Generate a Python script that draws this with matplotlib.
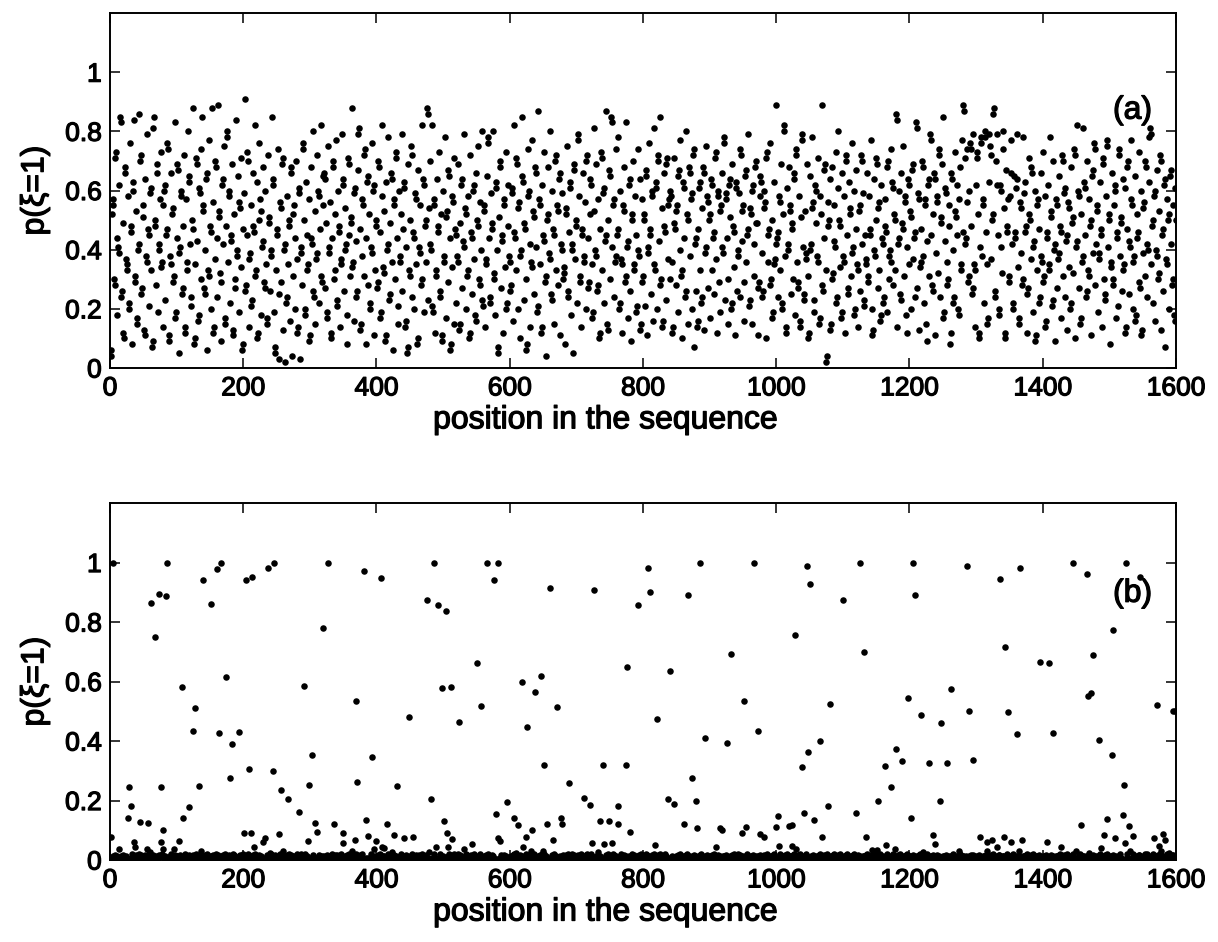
import numpy as np
import matplotlib
matplotlib.use("Agg")
import matplotlib.pyplot as plt
import matplotlib.patheffects as pe

plt.rcParams['font.family'] = ['Liberation Sans', 'DejaVu Sans']

# (a) p(xi=1) for every position, in percent
p_a_text = """
4 6 52 55 57 30 28 71 73 18 44 41 39 62 85 83 24 26 49 12 10 66 68 37 35 33 58 20 22 76 46 48 8 60 63 84 29 31 53 15
17 40 42 86 70 72 25 27 55 51 13 11 64 38 36 79 47 45 21 59 61 33 7 9 81 85 50 48 28 66 69 19 42 40 57 73 34 36 14 55
60 62 23 45 47 76 74 9 11 38 35 66 52 54 29 31 83 17 19 44 69 67 5 39 41 58 60 25 27 48 72 14 12 57 36 33 80 65 63 42
21 24 50 47 88 8 10 35 71 69 43 16 18 61 59 30 74 85 53 55 27 25 40 64 66 6 33 31 77 48 46 20 88 56 12 14 37 70 68 44
24 89 51 53 32 29 9 62 64 42 75 17 15 48 80 78 36 58 60 22 45 43 69 11 13 52 27 30 84 40 38 65 19 56 54 34 71 6 8 47
59 91 26 28 45 73 70 14 37 39 55 21 23 66 48 46 82 31 33 63 10 12 50 76 57 53 18 41 43 68 29 27 60 35 15 17 72 49 51 26
38 40 85 62 64 19 7 5 33 47 45 74 25 3 56 54 29 69 71 13 40 42 2 22 24 58 35 50 48 16 66 68 4 31 52 55 20 44 70 37
12 14 61 59 3 39 41 28 76 74 50 20 18 63 45 33 35 57 9 11 68 44 42 80 26 24 53 15 37 39 72 60 58 22 47 82 31 29 55 65
66 64 27 49 17 19 75 39 41 56 10 12 44 70 68 30 33 52 77 23 21 60 46 48 14 35 37 79 62 64 26 54 40 42 8 18 71 69 45 31
51 49 88 34 36 16 59 61 43 24 26 67 79 81 47 13 15 38 57 55 31 72 74 8 44 63 65 28 52 22 20 41 76 39 60 62 11 33 48 50
27 29 70 68 46 17 19 58 82 34 32 53 9 11 63 40 42 78 23 25 49 66 64 36 6 55 57 30 73 71 44 15 21 60 38 36 52 79 26 47
61 63 14 16 41 5 7 69 33 31 50 75 72 24 46 44 20 59 57 35 8 10 67 41 39 55 28 30 82 64 62 19 48 50 36 88 86 23 54 70
42 40 82 21 19 57 55 12 31 33 64 46 48 73 26 24 52 11 9 60 38 36 78 17 51 53 29 67 65 44 6 8 34 58 56 71 15 47 45 22
38 36 69 13 15 49 62 64 27 43 41 79 54 52 20 31 33 58 10 12 72 46 44 25 60 62 37 18 16 66 50 48 75 30 28 56 40 80 23 21
53 55 14 35 37 65 76 78 44 24 22 59 47 49 80 32 30 18 63 61 40 5 7 51 70 68 27 43 45 12 57 55 34 73 20 22 62 48 38 36
26 28 59 61 16 82 46 44 33 71 69 20 54 56 10 38 40 85 65 63 23 49 47 30 6 8 74 58 60 42 14 36 34 77 53 51 25 68 66 41
19 21 87 57 55 35 12 14 62 45 43 73 29 31 4 50 52 68 39 37 80 25 23 60 47 45 15 70 72 33 55 53 28 64 66 11 42 40 59 30
32 34 8 54 52 75 26 24 46 63 61 18 40 42 5 67 69 37 50 48 22 79 77 58 31 29 14 45 47 66 38 36 56 20 70 72 44 27 29 52
64 62 35 17 19 53 81 40 38 69 26 28 57 10 12 47 73 71 33 59 61 22 43 45 87 15 13 50 67 65 30 85 83 41 55 57 24 36 38 74
45 47 78 20 22 60 37 35 12 55 53 68 29 31 83 41 43 17 62 64 26 9 50 52 70 33 35 58 45 19 21 74 40 38 64 13 15 57 29 31
52 50 21 67 65 11 39 41 76 47 45 25 58 60 16 81 35 33 61 63 20 72 70 43 85 28 30 54 14 16 66 48 46 23 69 71 37 55 57 30
60 58 36 12 14 71 49 47 28 53 55 19 65 67 40 77 31 33 10 63 61 44 24 26 80 52 50 15 68 66 38 57 59 20 72 74 7 42 44 26
14 16 47 61 63 33 22 24 54 68 66 13 39 41 75 58 56 27 50 52 17 64 62 33 44 46 25 71 73 37 12 60 58 29 19 53 55 66 41 39
78 76 23 57 59 44 30 15 62 64 51 20 22 69 48 46 34 11 63 61 26 38 40 59 24 74 72 43 53 55 29 16 65 67 36 45 47 79 21 23
54 52 15 60 62 42 31 68 70 49 49 11 27 29 58 65 63 39 24 26 60 54 56 10 71 73 36 45 47 76 28 30 50 17 19 63 35 37 89 42
44 46 24 58 56 33 69 20 22 52 82 80 38 12 14 61 40 42 68 55 53 25 47 49 30 66 64 18 74 72 36 27 29 58 14 16 51 79 77 41
23 25 53 37 39 69 31 10 12 65 40 42 78 54 56 19 23 62 60 49 38 36 71 15 17 58 52 89 28 26 44 67 69 33 2 4 56 48 50 64
13 15 68 30 32 55 43 41 73 22 24 61 80 50 48 34 17 19 66 38 36 58 12 70 72 45 25 27 63 54 52 31 76 39 41 60 18 20 47 67
35 33 14 53 55 26 72 70 42 59 23 21 45 35 37 66 29 31 58 45 47 77 20 11 13 64 40 38 50 71 69 27 54 56 33 16 18 62 44 42
22 24 57 48 46 19 68 70 30 38 40 74 36 63 61 28 52 50 33 86 84 14 42 44 60 25 23 66 49 47 75 31 56 58 18 12 41 64 62 35
53 51 20 67 69 37 44 46 24 83 81 27 59 57 13 34 36 47 70 68 38 22 55 57 15 9 43 62 64 31 79 77 45 28 26 52 66 64 11 39
58 56 32 74 72 24 49 51 69 85 17 19 43 61 59 36 28 30 55 48 8 12 66 64 40 22 24 73 53 51 45 62 20 18 57 68 33 35 77 46
89 87 71 42 44 74 56 29 31 60 76 74 48 25 27 79 35 33 14 62 73 71 52 10 12 41 78 76 38 57 55 22 80 78 46 35 15 17 63 79
75 72 37 50 52 86 88 24 26 70 79 62 45 18 20 62 60 41 32 74 80 54 10 12 67 48 46 57 29 31 58 66 77 42 20 22 65 44 46 61
79 64 34 15 17 56 54 39 28 30 78 59 63 46 48 12 25 27 71 52 50 37 68 66 19 41 43 60 9 11 33 55 57 47 22 24 66 38 36 73
29 31 58 14 16 44 46 62 35 33 78 51 53 21 23 70 40 42 9 57 55 27 37 39 65 48 46 17 72 70 31 59 61 24 43 45 13 56 54 34
20 22 68 49 51 32 74 72 10 41 43 82 60 58 27 15 17 52 36 38 81 63 61 45 24 26 70 33 31 57 48 50 11 65 67 39 76 74 28 42
55 53 19 37 39 63 45 47 14 71 69 30 23 25 58 77 75 41 50 52 8 34 36 66 28 30 55 60 62 17 44 46 21 74 72 38 49 51 26 64
33 35 61 12 14 47 68 70 25 43 41 77 57 55 20 36 38 65 16 18 52 44 46 73 29 27 60 11 13 39 54 56 31 70 68 24 42 40 63 78
81 79 35 48 50 22 58 60 16 40 38 67 30 32 53 72 70 13 45 47 26 62 64 7 37 35 57 50 52 20 65 67 42 28 30 55 18 16 61 50
"""

# (b) baseline band, one digit per position (units of 0.004)
band_b_text = """
2013024103 2015203104 2103024130 2153021042 0315024103
1402302150 3012402031 0241302510 2031402013 5021304120
3102401320 1503201402 2014031052 0312403021 1420350213
0231402150 2403120314 1052031402 3021540210 2130420315
4102305120 0314021503 2140230152 1032041302 0521304120
2031504210 3120402153 0412031025 1302140320 2051302410
1203402510 2041302315 3021402130 0152031402 4120350213
0321402150 1420312035 2103042150 3012405210 1520341203
2401350213 0312041520 1250341023 4021305123 0213402150
3150213042 1024031520 2301452031 0420135021 1302450213
2104203150 4031205213 0152340210 2031540213 1420315023
0213504120 3102405132 2041302150 1530214023 4203150210
1320415023 0251403120 3012504213 2140350210 0312402153
2503140210 1024350213 4120305214 0213405120 3152041302
1042305120 2301452013 0531204213 2140352013 1203405123
3021540213 0142305210 2413052130 1052304120 2314025103
0213540210 3124052013 1402350213 2051304210 4130250213
2140352013 0312450213 1250341203 3021405123 0152340213
1304250213 2041352013 3102450213 0214305213 2153041203
4013250213 1203452013 0321540213 2401352013 1032450213
2130452013 0241350213 3012450213 1420352013 0213540213
1302450213 2104352013 0412350213 3021450213 1240352013
0321452013 2013450213 1402352013 3120450213 0241352013
2031450213 1204352013 0312450213 2140352013 1023450213
3012452013 0214350213 2103452013 1320450213 0412352013
2301450213 1032452013 0213450213 3102352013 2041450213
1203452013 0321450213 2410352013 1024450213 3201352013
0132450213 2014352013 1302450213 0241352013 3120450213
2103452013 1042350213 0312452013 2401350213 1230452013
0213450213 3021352013 1402450213 2130352013 0241450213
1320452013 2013350213 0412452013 3102350213 1024452013
2031450213 0123352013 1240450213 3012352013 2104452013
"""

# (b) positions that stand clear of the band, and their values
pos_b = [5, 85, 74, 84, 62, 68, 140, 152, 160, 166, 204, 213, 237, 246, 327, 320, 381, 407,
         174, 108, 291, 369, 128, 125, 164, 194, 183, 303, 393, 208, 244, 180, 371, 29, 76,
         133, 298, 256, 267, 31, 119, 284, 27, 109, 45, 57, 308, 336, 385, 416, 80, 201,
         211, 253, 311, 350, 2, 36, 37, 77, 103, 233, 229, 387, 400, 368, 14, 56, 60, 79,
         96, 137, 216, 240, 259, 287, 364, 396, 409, 297, 349,
         486, 476, 492, 504, 566, 582, 577, 661, 727, 807, 793, 811, 551, 498, 512, 557,
         524, 449, 618, 647, 638, 626, 671, 776, 821, 431, 482, 651, 740, 775, 689, 596,
         712, 721, 763, 501, 579, 606, 613, 677, 679, 656, 736, 749, 762, 781, 506, 633,
         427, 442, 455, 514, 583, 586, 624, 665, 489, 508, 543, 532, 620, 609, 650, 632,
         723, 742, 753, 818, 479, 411, 424, 733,
         886, 867, 966, 1046, 1050, 1126, 1100, 1206, 1209, 1028, 932, 1132, 841, 951,
         1081, 1198, 1217, 893, 973, 926, 1065, 1047, 1180, 1189, 1039, 1164, 1229, 873,
         1172, 837, 846, 879, 1152, 1078, 1041, 1119, 1203, 1003, 862, 881, 916, 918, 948,
         955, 975, 981, 1000, 1019, 1024, 1056, 1068, 1134, 909, 1004, 1023, 1030, 1165,
         1179, 1144, 1151,
         1286, 1336, 1366, 1445, 1466, 1525, 1546, 1506, 1344, 1476, 1396, 1410, 1262,
         1468, 1472, 1289, 1348, 1248, 1571, 1596, 1599, 1361, 1416, 1485, 1504, 1256,
         1296, 1522, 1246, 1458, 1520, 1497, 1530, 1236, 1239, 1306, 1316, 1324, 1342,
         1352, 1369, 1406, 1492, 1508, 1535, 1524, 1567, 1581, 1584, 1575, 1428, 1488,
         1331, 1275, 1220, 1531, 1578, 1589, 1317, 1364, 1450, 1470, 1553]
val_b = [1.0, 1.0, 0.894, 0.889, 0.865, 0.751, 0.94, 0.859, 0.978, 1.0, 0.94, 0.95, 0.98, 1.0,
         1.0, 0.781, 0.972, 0.948, 0.616, 0.583, 0.584, 0.534, 0.512, 0.433, 0.427, 0.43,
         0.389, 0.353, 0.345, 0.307, 0.299, 0.276, 0.264, 0.246, 0.246, 0.25, 0.252, 0.237,
         0.206, 0.18, 0.177, 0.162, 0.142, 0.141, 0.128, 0.123, 0.125, 0.121, 0.136, 0.12,
         0.10, 0.09, 0.092, 0.087, 0.094, 0.09, 0.078, 0.062, 0.045, 0.06, 0.064, 0.073,
         0.06, 0.082, 0.064, 0.068, 0.036, 0.038, 0.027, 0.036, 0.036, 0.032, 0.043, 0.023,
         0.032, 0.02, 0.032, 0.036, 0.043, 0.064, 0.056,
         1.0, 0.873, 0.857, 0.837, 1.0, 0.997, 0.942, 0.914, 0.907, 0.98, 0.857, 0.901,
         0.662, 0.579, 0.582, 0.519, 0.463, 0.482, 0.60, 0.617, 0.565, 0.447, 0.515, 0.648,
         0.475, 0.249, 0.206, 0.32, 0.32, 0.321, 0.258, 0.194, 0.209, 0.185, 0.181, 0.13,
         0.154, 0.142, 0.117, 0.14, 0.122, 0.121, 0.132, 0.132, 0.12, 0.094, 0.092, 0.101,
         0.085, 0.073, 0.076, 0.072, 0.073, 0.065, 0.076, 0.068, 0.045, 0.045, 0.053, 0.038,
         0.045, 0.024, 0.032, 0.029, 0.058, 0.053, 0.056, 0.049, 0.027, 0.041, 0.027, 0.026,
         1.0, 0.891, 1.0, 0.988, 0.929, 1.0, 0.875, 0.997, 0.891, 0.757, 0.692, 0.70, 0.636,
         0.536, 0.525, 0.543, 0.488, 0.409, 0.434, 0.392, 0.40, 0.362, 0.374, 0.333, 0.312,
         0.316, 0.327, 0.277, 0.245, 0.204, 0.188, 0.199, 0.20, 0.181, 0.159, 0.159, 0.143,
         0.148, 0.121, 0.107, 0.107, 0.10, 0.09, 0.112, 0.087, 0.079, 0.11, 0.114, 0.117,
         0.133, 0.078, 0.077, 0.043, 0.047, 0.048, 0.038, 0.052, 0.038, 0.033, 0.033,
         0.99, 0.946, 0.981, 1.0, 0.962, 1.0, 0.95, 0.772, 0.717, 0.688, 0.666, 0.663, 0.574,
         0.553, 0.56, 0.50, 0.497, 0.46, 0.521, 0.50, 0.50, 0.422, 0.426, 0.404, 0.353, 0.326,
         0.337, 0.251, 0.20, 0.117, 0.152, 0.139, 0.115, 0.084, 0.053, 0.077, 0.062, 0.069,
         0.077, 0.06, 0.068, 0.06, 0.084, 0.073, 0.082, 0.058, 0.073, 0.086, 0.068, 0.047,
         0.043, 0.041, 0.045, 0.029, 0.026, 0.032, 0.032, 0.023, 0.032, 0.029, 0.029, 0.023,
         0.02]

ytick_vals = [0, 0.2, 0.4, 0.6, 0.8, 1]
ytick_labels = ["0", "0.2", "0.4", "0.6", "0.8", "1"]
xtick_vals = [0, 200, 400, 600, 800, 1000, 1200, 1400, 1600]

p_a = np.array(p_a_text.split(), float) / 100
pos_a = np.arange(1, len(p_a) + 1)

band_b = np.array([int(c) for c in "".join(band_b_text.split())], float) * 0.004
p_b = band_b.copy()
p_b[np.array(pos_b) - 1] = val_b
pos_bb = np.arange(1, len(p_b) + 1)

thick = [pe.withStroke(linewidth=0.9, foreground='k')]

fig = plt.figure(figsize=(12.18, 9.42), dpi=100)
ax1 = fig.add_axes([0.0903, 0.6093, 0.8752, 0.3769])
ax2 = fig.add_axes([0.0903, 0.0870, 0.8752, 0.3790])

for ax, x, y, tag, ty in [(ax1, pos_a, p_a, "(a)", 0.87), (ax2, pos_bb, p_b, "(b)", 0.895)]:
    ax.plot(x, y, 'o', color='k', ms=4.7, mew=0)
    ax.set_xlim(0, 1600)
    ax.set_ylim(0, 1.2)
    ax.set_xticks(xtick_vals)
    ax.set_yticks(ytick_vals)
    ax.set_yticklabels(ytick_labels)
    ax.tick_params(direction='in', length=7, width=1.1, top=True, right=True,
                   labelsize=19, pad=6)
    for lab in ax.get_xticklabels() + ax.get_yticklabels():
        lab.set_path_effects(thick)
    for s in ax.spines.values():
        s.set_linewidth(1.4)
    ax.set_xlabel("position in the sequence", fontsize=23, path_effects=thick)
    ax.xaxis.set_label_coords(0.465, -0.105)
    ax.set_ylabel("p(ξ=1)", fontsize=23, path_effects=thick)
    ax.yaxis.set_label_coords(-0.056, 0.5)
    ax.text(1535, ty, tag, fontsize=23, ha='center', va='center', path_effects=thick)

fig.savefig("out.png", dpi=100)
